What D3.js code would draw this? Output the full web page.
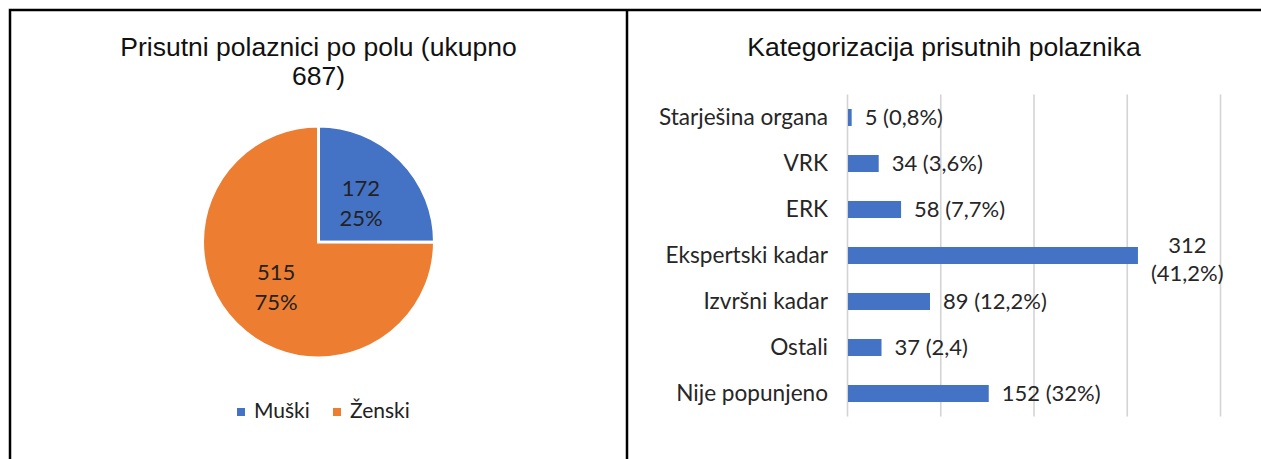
<!DOCTYPE html>
<html>
<head>
<meta charset="utf-8">
<script src="https://cdn.jsdelivr.net/npm/d3@7"></script>
<style>
  body { margin: 0; background: #fff; }
  svg { display: block; }
</style>
</head>
<body>
<svg id="mysvg" width="1261" height="459"></svg>
<script>
// pie data
const genderLabels = ["Muški", "Ženski"];
const genderValues = [172, 515];
const genderPercents = ["25%", "75%"];
const genderColors = ["#4472C4", "#ED7D31"];

// bar data
const categories = ["Starješina organa", "VRK", "ERK", "Ekspertski kadar", "Izvršni kadar", "Ostali", "Nije popunjeno"];
const categoryValues = [5, 34, 58, 312, 89, 37, 152];
const categoryPercents = ["(0,8%)", "(3,6%)", "(7,7%)", "(41,2%)", "(12,2%)", "(2,4)", "(32%)"];
const xTicks = [0, 100, 200, 300, 400];

const svg = d3.select("#mysvg");
const calibri = "Lato, 'Noto Sans', sans-serif";
const arial = "'Liberation Sans', Arial, sans-serif";

// frame
svg.append("path")
  .attr("d", "M10,459 V10 H1261 M627,10 V459")
  .attr("fill", "none").attr("stroke", "#000").attr("stroke-width", 2.5);

// ---------- left: pie ----------
const left = svg.append("g");
left.append("text").attr("x", 318.5).attr("y", 56).attr("text-anchor", "middle")
  .style("font-family", arial).style("font-size", "26.5px").attr("fill", "#111")
  .text("Prisutni polaznici po polu (ukupno");
left.append("text").attr("x", 318.5).attr("y", 85).attr("text-anchor", "middle")
  .style("font-family", arial).style("font-size", "26.5px").attr("fill", "#111")
  .text("687)");

const r = 116;
const pieG = left.append("g").attr("transform", "translate(318.5,242)");
const pie = d3.pie().sort(null).value((d) => d)(genderValues);
const arc = d3.arc().innerRadius(0).outerRadius(r);
const labelArc = d3.arc().innerRadius(60).outerRadius(60);

pieG.selectAll(".slice").data(pie).join("path").attr("class", "slice")
  .attr("d", arc)
  .attr("fill", (d, i) => genderColors[i])
  .attr("stroke", "#fff").attr("stroke-width", 3);

const pieLabels = pieG.selectAll(".plabel").data(pie).join("text").attr("class", "plabel")
  .attr("text-anchor", "middle")
  .style("font-family", calibri).style("font-size", "22px").attr("fill", "#222");
pieLabels.append("tspan")
  .attr("x", (d) => labelArc.centroid(d)[0])
  .attr("y", (d) => labelArc.centroid(d)[1] - 4)
  .text((d) => d.data);
pieLabels.append("tspan")
  .attr("x", (d) => labelArc.centroid(d)[0])
  .attr("y", (d) => labelArc.centroid(d)[1] + 26)
  .text((d, i) => genderPercents[i]);

// legend
const legend = left.selectAll(".legend").data(genderLabels).join("g").attr("class", "legend")
  .attr("transform", (d, i) => `translate(${237 + i * 96},408)`);
legend.append("rect").attr("width", 8).attr("height", 8).attr("fill", (d, i) => genderColors[i]);
legend.append("text").attr("x", 17).attr("y", 10)
  .style("font-family", calibri).style("font-size", "21px").attr("fill", "#222")
  .text((d) => d);

// ---------- right: bars ----------
const right = svg.append("g");
right.append("text").attr("x", 944).attr("y", 56).attr("text-anchor", "middle")
  .style("font-family", arial).style("font-size", "26.5px").attr("fill", "#111")
  .text("Kategorizacija prisutnih polaznika");

const x0 = 847, x1 = 1220, yTop = 94.5, yBot = 416.5;
const x = d3.scaleLinear().domain([0, 400]).range([x0, x1]);
const y = d3.scaleBand().domain(categories).range([yTop, yBot]).paddingInner(0.63).paddingOuter(0.315);

// gridlines
right.append("g").attr("transform", `translate(0,${yBot})`)
  .call(d3.axisBottom(x).tickValues(xTicks).tickSize(-(yBot - yTop)).tickFormat(""))
  .call((g) => g.select(".domain").remove())
  .call((g) => g.selectAll(".tick line").attr("stroke", "#d4d4d4").attr("stroke-width", 1.6));

// category axis
right.append("g").attr("transform", `translate(${x0},0)`)
  .call(d3.axisLeft(y).tickSize(0).tickPadding(19))
  .call((g) => g.select(".domain").remove())
  .call((g) => g.selectAll(".tick text")
    .style("font-family", calibri).style("font-size", "22.6px").attr("fill", "#262626"));

right.selectAll(".bar").data(categoryValues).join("rect").attr("class", "bar")
  .attr("x", x(0) + 1)
  .attr("y", (d, i) => y(categories[i]))
  .attr("width", (d) => x(d) - x(0) - 1)
  .attr("height", y.bandwidth())
  .attr("fill", "#4472C4");

// value labels
const gap = 13;
categoryValues.forEach((v, i) => {
  const cy = y(categories[i]) + y.bandwidth() / 2;
  const t = right.append("text")
    .attr("x", x(v) + gap).attr("y", cy).attr("dy", "0.36em")
    .style("font-family", calibri).style("font-size", "22px").attr("fill", "#262626")
    .text(`${v} ${categoryPercents[i]}`);
  const w = t.node().getComputedTextLength();
  if (x(v) + gap + w > 1250) {
    // wrap into two centred lines like the original
    t.text(null).attr("dy", null).attr("text-anchor", "middle");
    const probe = right.append("text").style("font-family", calibri).style("font-size", "22px")
      .text(categoryPercents[i]);
    const w2 = probe.node().getComputedTextLength();
    probe.remove();
    const cx = x(v) + gap + w2 / 2;
    t.append("tspan").attr("x", cx).attr("y", cy - 3).text(v);
    t.append("tspan").attr("x", cx).attr("y", cy + 25).text(categoryPercents[i]);
  }
});
</script>
</body>
</html>
